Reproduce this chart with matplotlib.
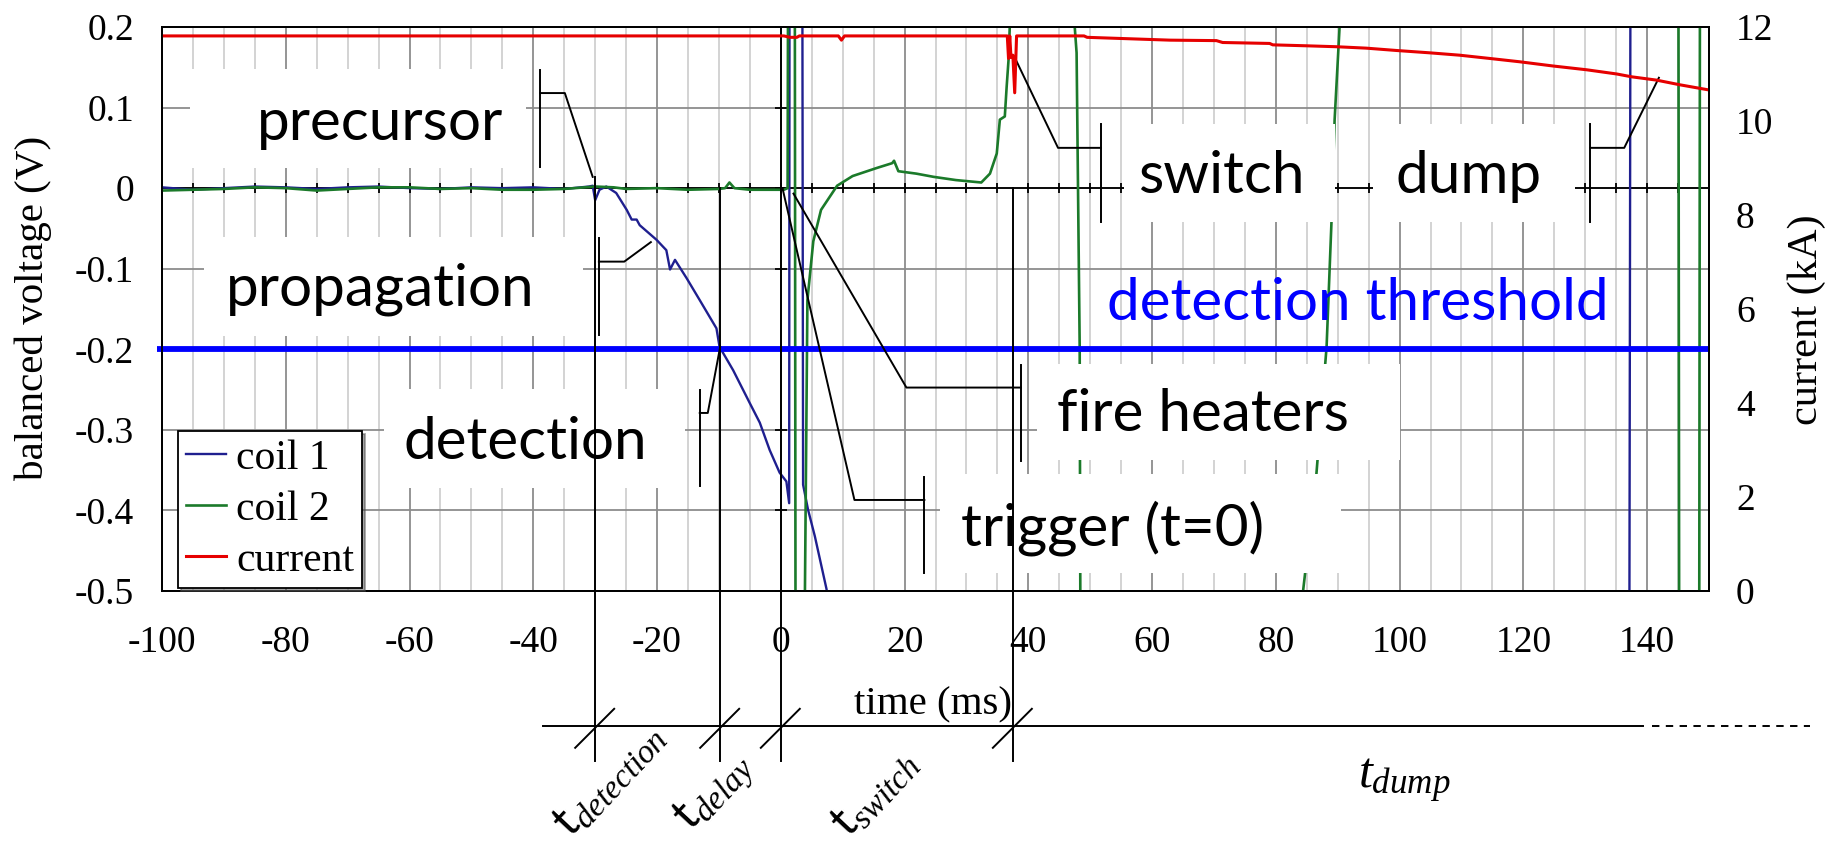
import matplotlib.pyplot as plt
from matplotlib.patches import Rectangle

plt.rcParams['font.family'] = 'Liberation Serif'
plt.rcParams['axes.unicode_minus'] = False
plt.rcParams['mathtext.fontset'] = 'custom'
plt.rcParams['mathtext.it'] = 'Liberation Serif:italic'
plt.rcParams['mathtext.rm'] = 'Liberation Serif'
plt.rcParams['mathtext.sf'] = 'Lato'

# ---- measured traces -------------------------------------------------------
# coil 1 balanced voltage (V); +/-0.7 marks where the trace runs off scale
t_coil1 = [-100, -95, -90, -85, -80, -75, -70, -65, -60, -55, -50, -45, -40, -35,
           -31, -30.4, -30.0, -29.3, -28.2, -26.6, -24.9, -24.1, -23.3, -22.8,
           -20.1, -18.5, -17.9, -17.1, -15.2, -13.1, -10.4, -9.9, -7.7, -5.0,
           -3.4, -1.8, -0.2, 0.9, 1.35, 1.45, 3.4, 3.6, 4.4, 5.5, 7.4, 7.8,
           137.1, 137.4, 150]
v_coil1 = [0.001, -0.002, 0.0, 0.002, 0.001, -0.001, 0.001, 0.002, 0.0, -0.001,
           0.001, 0.0, 0.001, -0.001, 0.002, 0.003, -0.015, -0.002, 0.002,
           -0.006, -0.027, -0.039, -0.039, -0.046, -0.064, -0.077, -0.101,
           -0.089, -0.112, -0.139, -0.174, -0.197, -0.226, -0.267, -0.291,
           -0.325, -0.353, -0.364, -0.391, 0.7, 0.7, -0.368, -0.399, -0.432,
           -0.498, -0.7, -0.7, 0.7, 0.7]

# coil 2 balanced voltage (V)
t_coil2 = [-100, -95, -90, -85, -80, -75, -70, -65, -60, -55, -50, -45, -40, -35,
           -30, -27, -25, -20, -15, -10, -9, -8.3, -7.5, -5, -2, 0.5, 1.1, 1.3,
           2.2, 2.4, 3.7, 3.9, 4.3, 5.25, 6.5, 9.1, 11.6, 15.5, 18.0, 18.3, 19.0,
           21.9, 24.7, 28.3, 32.4, 33.8, 34.9, 35.4, 36.2, 36.5, 36.8, 37.0,
           37.2, 47.4, 47.5, 47.8, 48.3, 48.4, 48.5, 84.2, 84.4, 86.5, 88.2,
           89.0, 89.5, 90.3, 90.5, 145.0, 145.2, 148.4, 148.6, 150]
v_coil2 = [-0.003, -0.002, -0.001, 0.001, 0.0, -0.003, -0.001, 0.001, 0.001,
           -0.001, 0.0, -0.002, -0.002, -0.001, 0.002, 0.001, -0.001, 0.0,
           -0.002, -0.001, 0.0, 0.007, 0.0, -0.002, -0.002, -0.002, 0.0, 0.7,
           0.7, -0.7, -0.7, -0.5, -0.139, -0.066, -0.027, 0.003, 0.015, 0.025,
           0.031, 0.034, 0.021, 0.018, 0.014, 0.010, 0.007, 0.018, 0.043, 0.085,
           0.089, 0.126, 0.159, 0.2, 0.7, 0.7, 0.2, 0.168, -0.197, -0.5, -0.7,
           -0.7, -0.5, -0.36, -0.197, -0.04, 0.085, 0.2, 0.7, 0.7, -0.7, -0.7,
           0.7, 0.7]

# magnet current (kA)
t_current = [-100, -50, 0.5, 1.5, 2.6, 3.0, 9.3, 9.8, 10.3, 36.6, 36.8, 37.0,
             37.2, 37.5, 37.8, 38.1, 49.0, 49.5, 62.9, 70.4, 71.4, 79.0, 79.5,
             84.9, 89.8, 94.6, 99.5, 104.9, 109.7, 114.6, 119.4, 124.8, 130.2,
             135.1, 137.5, 141.5, 145.3, 150]
i_current = [11.81, 11.81, 11.81, 11.78, 11.78, 11.81, 11.81, 11.72, 11.81,
             11.81, 11.33, 11.81, 11.35, 11.40, 10.60, 11.81, 11.81, 11.78,
             11.72, 11.71, 11.67, 11.65, 11.62, 11.60, 11.58, 11.55, 11.50,
             11.45, 11.40, 11.33, 11.26, 11.17, 11.09, 11.00, 10.94, 10.87,
             10.77, 10.66]

THRESHOLD = -0.2

# event times (ms) marked on the time line
T_DETECT = -30.0
T_DELAY = -9.8
T_TRIGGER = 0.0
T_SWITCH = 37.5

x_ticks = list(range(-100, 141, 20))
y_ticks = [0.2, 0.1, 0.0, -0.1, -0.2, -0.3, -0.4, -0.5]
y_labels = ['0.2', '0.1', '0', '-0.1', '-0.2', '-0.3', '-0.4', '-0.5']
i_ticks = [0, 2, 4, 6, 8, 10, 12]

C_COIL1 = '#1f1f8f'
C_COIL2 = '#1b7a2a'
C_CURR = '#e60000'

fig = plt.figure(figsize=(18.41, 8.46), dpi=100)
ax = fig.add_axes([0.0880, 0.3014, 0.8403, 0.6667])
ax2 = ax.twinx()

ax.set_xlim(-100, 150)
ax.set_ylim(-0.5, 0.2)
ax2.set_ylim(0, 12)

# grid: dark at labelled ticks, light every 5 ms
ax.set_xticks(x_ticks)
ax.set_xticks(list(range(-100, 151, 5)), minor=True)
ax.set_yticks(y_ticks)
ax.set_yticklabels(y_labels)
ax.grid(True, which='major', color='#8c8c8c', lw=1.3, zorder=0)
ax.grid(True, which='minor', axis='x', color='#d0d0d0', lw=1.3, zorder=0)
ax.set_axisbelow(True)
ax2.set_yticks(i_ticks)

for a in (ax, ax2):
    a.tick_params(which='both', length=0)
    for s in a.spines.values():
        s.set_linewidth(1.3)
ax.tick_params(axis='x', pad=25, labelsize=27)
ax.tick_params(axis='y', pad=20, labelsize=27)
ax2.tick_params(axis='y', pad=19.5, labelsize=27)

# zero axes with their own small ticks
ax.axhline(0, color='k', lw=1.3, zorder=1)
ax.plot(list(range(-100, 151, 5)), [0] * 51, ls='none', marker='|', ms=7,
        mew=1.3, color='k', zorder=1)
ax.plot([0] * len(y_ticks), y_ticks, ls='none', marker='_', ms=9, mew=1.3,
        color='k', zorder=1, clip_on=False)

l1, = ax.plot(t_coil1, v_coil1, color=C_COIL1, lw=1.7, zorder=3, label='coil 1')
l2, = ax.plot(t_coil2, v_coil2, color=C_COIL2, lw=1.9, zorder=3, label='coil 2')
l3, = ax2.plot(t_current, i_current, color=C_CURR, lw=2.2, label='current')

ax.plot([-100.8, 150], [THRESHOLD, THRESHOLD], color='#0000ff', lw=4.2,
        zorder=3.5, clip_on=False, solid_capstyle='butt')

# white label panels
panels = [(-95.5, 0.025, 54.3, 0.123),
          (-93.2, -0.1834, 61.2, 0.1229),
          (-64.2, -0.3723, 48.7, 0.1225),
          (41.4, -0.338, 58.7, 0.120),
          (25.7, -0.4774, 64.8, 0.1228),
          (55.5, -0.042, 34.1, 0.1217),
          (95.7, -0.042, 32.6, 0.1217)]
for x0, y0, w, h in panels:
    ax.add_patch(Rectangle((x0, y0), w, h, facecolor='white', edgecolor='none',
                           zorder=4))

txt = dict(family='Lato', size=42, zorder=5, va='baseline', ha='left')
ax.text(-84.6, 0.0593, 'precursor', **txt)
ax.text(-89.7, -0.146, 'propagation', **txt)
ax.text(-60.9, -0.3356, 'detection', **txt)
ax.text(44.6, -0.301, 'fire heaters', **txt)
ax.text(29.2, -0.4435, 'trigger (t=0)', **txt)
ax.text(57.7, -0.0063, 'switch', **txt)
ax.text(99.3, -0.0063, 'dump', **txt)
ax.text(52.7, -0.1635, 'detection threshold', color='#0000ff', **txt)


def seg(xs, ys, **kw):
    ax.plot(xs, ys, color='k', lw=1.4, clip_on=False, zorder=6, **kw)


# callout brackets
seg([-38.9, -38.9], [0.146, 0.0267])
seg([-38.9, -34.9, -30.4], [0.118, 0.118, 0.014])
seg([-29.4, -29.4], [-0.0618, -0.182])
seg([-29.4, -25.3, -21.0], [-0.0912, -0.0912, -0.067])
seg([-13.1, -13.1], [-0.250, -0.370])
seg([-13.1, -11.8, -9.8], [-0.279, -0.279, -0.197])
seg([38.8, 38.8], [-0.219, -0.339])
seg([2.05, 20.3, 38.8], [-0.0068, -0.2475, -0.2475])
seg([23.2, 23.2], [-0.358, -0.478])
seg([0.27, 11.9, 23.2], [0.0, -0.387, -0.387])
seg([51.7, 51.7], [0.0793, -0.0416])
seg([38.0, 44.8, 51.7], [0.159, 0.050, 0.050])
seg([130.8, 130.8], [0.0793, -0.0416])
seg([141.9, 136.3, 130.8], [0.137, 0.050, 0.050])

# event markers dropped onto the time line
TL = -0.667
seg([T_DETECT, T_DETECT], [0.014, -0.7115])
seg([T_DELAY, T_DELAY], [0.0, -0.7115])
seg([T_TRIGGER, T_TRIGGER], [0.2, -0.7115])
seg([T_SWITCH, T_SWITCH], [0.0, -0.7115])
seg([-38.4, 139.4], [TL, TL])
seg([140.8, 166.3], [TL, TL], ls=(0, (3.8, 3.3)))
for te in (T_DETECT, T_DELAY, T_TRIGGER, T_SWITCH):
    seg([te - 3.23, te + 3.07], [-0.6946, -0.6462])

lab = dict(size=34, rotation=47, rotation_mode='anchor', ha='center',
           va='center', zorder=6)
ax.text(-27.6, -0.736, r'$\mathsf{t}_{detection}$', **lab)
ax.text(-10.7, -0.750, r'$\mathsf{t}_{delay}$', **lab)
ax.text(15.4, -0.752, r'$\mathsf{t}_{switch}$', **lab)
ax.text(93.2, -0.744, r'$t_{dump}$', size=36, ha='left', va='baseline',
        zorder=6)

fig.text(33.6 / 1841, 1 - 308 / 846, 'balanced voltage (V)', rotation=90,
         ha='center', va='center', size=29.5)
fig.text(1807 / 1841, 1 - 320 / 846, 'current (kA)', rotation=90,
         ha='center', va='center', size=30.5)
fig.text(933 / 1841, 1 - 705 / 846, 'time (ms)', ha='center', va='center',
         size=29.5)

leg = ax2.legend(handles=[l1, l2, l3], loc='upper left',
                 bbox_to_anchor=(178 / 1841, 1 - 431 / 846),
                 bbox_transform=fig.transFigure, borderaxespad=0,
                 fancybox=False, shadow=True, framealpha=1, edgecolor='k',
                 prop={'family': 'Liberation Serif', 'size': 30},
                 handlelength=0.95, handletextpad=0.24, labelspacing=0.3,
                 borderpad=0.2)
leg.get_frame().set_linewidth(1.3)

fig.savefig('out.png', dpi=100, facecolor='white')
